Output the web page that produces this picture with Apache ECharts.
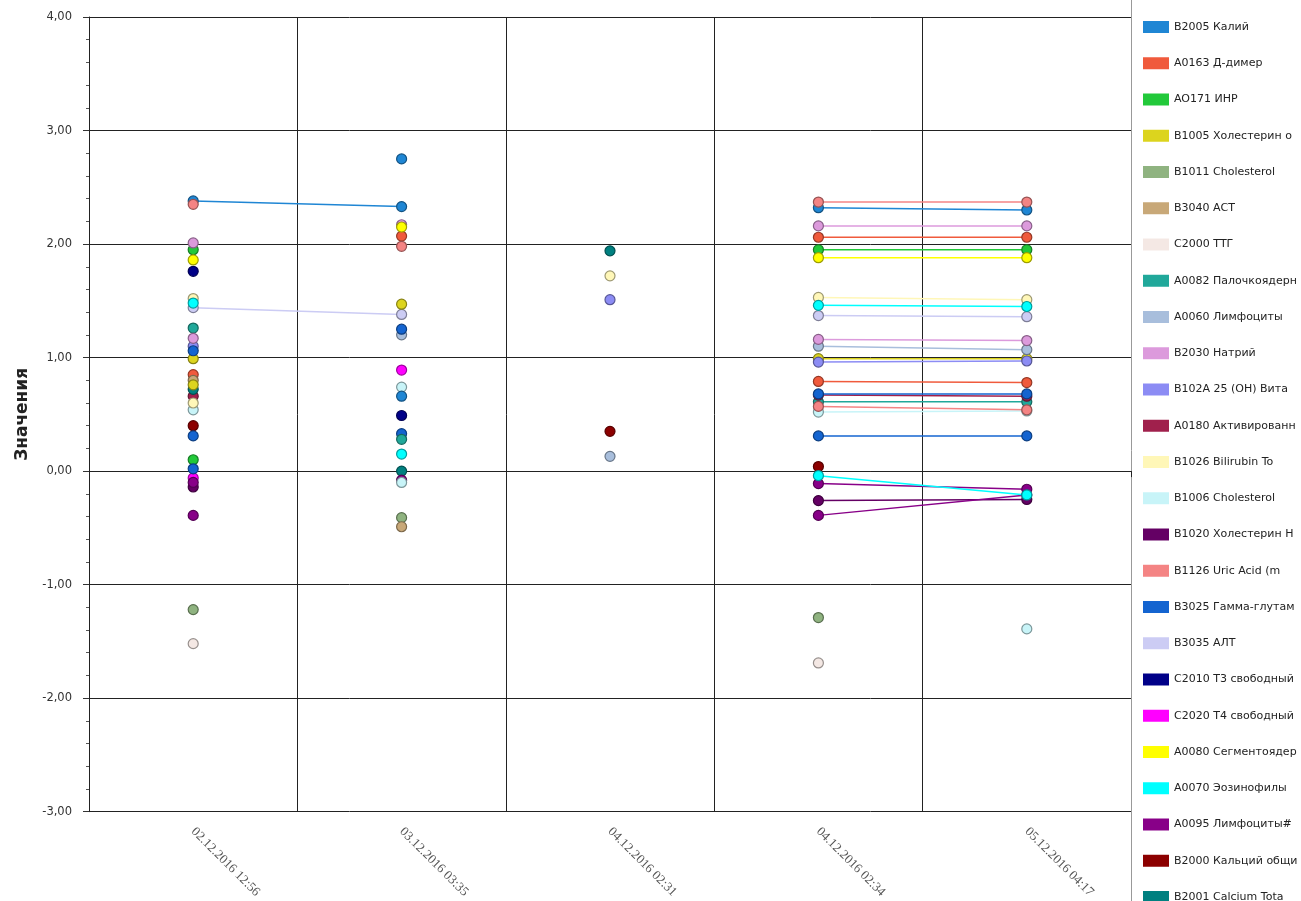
<!DOCTYPE html>
<html>
<head>
<meta charset="utf-8">
<script src="https://cdn.jsdelivr.net/npm/echarts@6/dist/echarts.min.js"></script>
<style>
html,body{margin:0;padding:0;background:#fff;}
#chart{width:1301px;height:901px;}
</style>
</head>
<body>
<div id="chart"></div>
<script>
const categories = ['02.12.2016 12:56','03.12.2016 03:35','04.12.2016 02:31','04.12.2016 02:34','05.12.2016 04:17'];

const legendNames = [
  'B2005 Калий','A0163 Д-димер','AO171 ИНР','B1005 Холестерин о','B1011 Cholesterol',
  'B3040 АСТ','C2000 ТТГ','A0082 Палочкоядерн','A0060 Лимфоциты','B2030 Натрий',
  'B102A 25 (OH) Вита','A0180 Активированн','B1026 Bilirubin To','B1006 Cholesterol','B1020 Холестерин Н',
  'B1126 Uric Acid (m','B3025 Гамма-глутам','B3035 АЛТ','C2010 Т3 свободный','C2020 Т4 свободный',
  'A0080 Сегментоядер','A0070 Эозинофилы','A0095 Лимфоциты#','B2000 Кальций общи','B2001 Calcium Tota'
];

const palette = [
  '#1f86d4','#f05a3c','#22c93a','#dcd41e','#8fb380',
  '#c8a878','#f4e8e4','#20a89a','#a8bedc','#dc9adc',
  '#8c8cf4','#a0204c','#fff7b8','#c8f4f8','#640064',
  '#f48484','#1464d0','#ccccf4','#000088','#ff00ff',
  '#ffff00','#00ffff','#880088','#8c0000','#008080'
];

// colour (palette index) of every plotted series; the first 25 are the legend entries
const seriesColorIndex = [
  0,1,2,3,4,5,6,7,8,9,10,11,12,13,14,15,16,17,18,19,20,21,22,23,24,
  3,12,16,2,16,22,9,1,15,21,13,0,9,20,3,16,19,0,18,16,7,24,22,13,4,5,10,23,8
];

// values per series at the five dates (null = no measurement)
const seriesValues = [
  [2.38, 2.33, null, 2.32, 2.30],
  [0.85, null, null, 2.06, 2.06],
  [1.95, null, null, 1.95, 1.95],
  [0.99, null, null, 0.99, 0.99],
  [-1.22, null, null, -1.29, null],
  [0.80, null, null, null, null],
  [-1.52, null, null, -1.69, null],
  [1.26, null, null, 0.61, 0.61],
  [null, 1.20, null, 1.10, 1.07],
  [2.01, null, null, 2.16, 2.16],
  [1.10, null, null, 0.96, 0.97],
  [0.66, null, null, 0.67, 0.66],
  [1.52, null, null, 1.53, 1.51],
  [0.54, null, null, 0.52, 0.53],
  [-0.14, null, null, -0.26, -0.25],
  [2.35, null, null, 2.37, 2.37],
  [1.06, null, null, 0.68, 0.68],
  [1.44, 1.38, null, 1.37, 1.36],
  [1.76, null, null, null, null],
  [-0.06, null, null, null, null],
  [1.86, null, null, 1.88, 1.88],
  [1.48, null, null, 1.46, 1.45],
  [-0.10, null, null, -0.11, -0.16],
  [0.40, null, null, 0.04, null],
  [0.72, null, 1.94, null, null],
  [0.76, null, null, null, null],
  [0.60, null, 1.72, null, null],
  [0.31, null, null, 0.31, 0.31],
  [0.10, null, null, null, null],
  [0.02, null, null, null, null],
  [-0.39, null, null, -0.39, -0.21],
  [1.17, null, null, 1.16, 1.15],
  [null, 2.07, null, 0.79, 0.78],
  [null, 1.98, null, 0.57, 0.54],
  [null, 0.15, null, -0.04, -0.21],
  [null, 0.74, null, null, -1.39],
  [null, 2.75, null, null, null],
  [null, 2.17, null, null, null],
  [null, 2.15, null, null, null],
  [null, 1.47, null, null, null],
  [null, 1.25, null, null, null],
  [null, 0.89, null, null, null],
  [null, 0.66, null, null, null],
  [null, 0.49, null, null, null],
  [null, 0.33, null, null, null],
  [null, 0.28, null, null, null],
  [null, 0.00, null, null, null],
  [null, -0.08, null, null, null],
  [null, -0.10, null, null, null],
  [null, -0.41, null, null, null],
  [null, -0.49, null, null, null],
  [null, null, 1.51, null, null],
  [null, null, 0.35, null, null],
  [null, null, 0.13, null, null]
];

const yTicks = [-3, -2, -1, 0, 1, 2, 3, 4];

function darken(hex, f) {
  const n = parseInt(hex.slice(1), 16);
  const r = Math.round(((n >> 16) & 255) * f);
  const g = Math.round(((n >> 8) & 255) * f);
  const b = Math.round((n & 255) * f);
  return 'rgb(' + r + ',' + g + ',' + b + ')';
}

const series = seriesValues.map(function (vals, i) {
  const col = palette[seriesColorIndex[i]];
  return {
    name: i < legendNames.length ? legendNames[i] : ('Ряд ' + (i + 1)),
    type: 'line',
    data: vals,
    connectNulls: false,
    symbol: 'circle',
    symbolSize: 10,
    showSymbol: true,
    showAllSymbol: true,
    lineStyle: { color: col, width: 1.5 },
    itemStyle: { color: col, borderColor: darken(col, 0.62), borderWidth: 1.2 },
    emphasis: { disabled: true }
  };
});

const chart = echarts.init(document.getElementById('chart'), null, { renderer: 'canvas' });
chart.setOption({
  animation: false,
  backgroundColor: '#ffffff',
  grid: { left: 89, right: 170, top: 17, bottom: 89, containLabel: false },
  legend: {
    data: legendNames,
    orient: 'vertical',
    left: 1143,
    top: 21,
    height: 1000,
    padding: 0,
    icon: 'rect',
    itemWidth: 26,
    itemHeight: 12,
    itemGap: 24.25,
    selectedMode: false,
    itemStyle: { borderWidth: 0 },
    textStyle: { fontFamily: 'DejaVu Sans', fontSize: 11, color: '#222', lineHeight: 12 }
  },
  xAxis: {
    type: 'category',
    data: categories,
    boundaryGap: true,
    axisLine: { show: true, lineStyle: { color: '#222', width: 1 } },
    axisTick: { show: true, length: 6, lineStyle: { color: '#222' } },
    axisLabel: {
      interval: 0,
      rotate: -45,
      margin: 18,
      fontFamily: 'Liberation Serif',
      fontSize: 13,
      color: '#555'
    },
    splitLine: { show: true, showMaxLine: false, lineStyle: { color: '#222', width: 1 } }
  },
  yAxis: {
    type: 'value',
    min: yTicks[0],
    max: yTicks[yTicks.length - 1],
    interval: 1,
    name: 'Значения',
    nameLocation: 'middle',
    nameGap: 56,
    nameRotate: 90,
    nameTextStyle: { fontFamily: 'DejaVu Sans', fontSize: 17, fontWeight: 'bold', color: '#222' },
    axisLine: { show: true, lineStyle: { color: '#222', width: 1 } },
    axisTick: { show: true, length: 6, lineStyle: { color: '#333' } },
    minorTick: { show: true, splitNumber: 5, length: 3, lineStyle: { color: '#555' } },
    axisLabel: {
      margin: 17,
      fontFamily: 'DejaVu Sans',
      fontSize: 11.5,
      color: '#333',
      formatter: function (v) { return v.toFixed(2).replace('.', ','); }
    },
    splitLine: {
      show: true,
      lineStyle: { color: ['#222','#222','#222','#7a0a0a','#222','#222','#222','#222'], width: 1 }
    }
  },
  graphic: [{
    type: 'line',
    shape: { x1: 1131.5, y1: 0, x2: 1131.5, y2: 901 },
    style: { stroke: '#999', lineWidth: 1 },
    silent: true
  }],
  series: series
});
</script>
</body>
</html>
